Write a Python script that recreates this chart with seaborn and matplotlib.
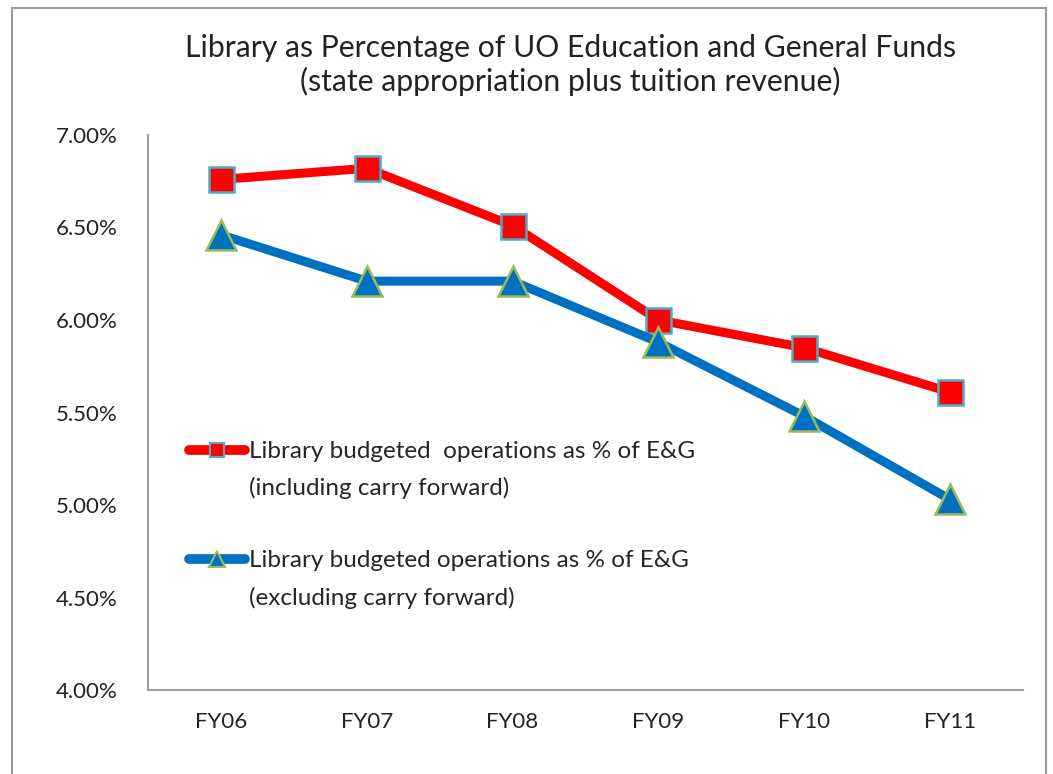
import matplotlib
matplotlib.use("Agg")
import matplotlib.pyplot as plt
import seaborn as sns
import pandas as pd
from matplotlib.lines import Line2D
from matplotlib.patches import Rectangle
from matplotlib.ticker import FuncFormatter, MultipleLocator

# data (percent of E&G)
years = ["FY06", "FY07", "FY08", "FY09", "FY10", "FY11"]
incl_carry = [6.76, 6.82, 6.51, 6.00, 5.85, 5.61]
excl_carry = [6.46, 6.21, 6.21, 5.88, 5.48, 5.03]
label_incl = ["Library budgeted  operations as % of E&G", "(including carry forward)"]
label_excl = ["Library budgeted operations as % of E&G", "(excluding carry forward)"]
title = "Library as Percentage of UO Education and General Funds\n(state appropriation plus tuition revenue)"

df = pd.DataFrame({"year": years, "incl": incl_carry, "excl": excl_carry})
df["x"] = range(len(years))

sns.set_style("white")
plt.rcParams["font.family"] = ["Lato", "DejaVu Sans"]

fig = plt.figure(figsize=(10.53, 7.74), dpi=100)
ax = fig.add_axes([0.1406, 0.1085, 0.8309, 0.7171])

# outer chart border
fig.patches.append(Rectangle((0.011, -0.02), 0.982, 1.01, transform=fig.transFigure,
                             fill=False, edgecolor="#9a9a9a", linewidth=1.5))

sns.lineplot(data=df, x="x", y="incl", ax=ax, color="#ff0000", linewidth=6.5,
             marker="s", markersize=18, markerfacecolor="#ff0000",
             markeredgecolor="#4bacc6", markeredgewidth=1.8, zorder=3)
sns.lineplot(data=df, x="x", y="excl", ax=ax, color="#0070c0", linewidth=6.5,
             marker="^", markersize=21, markerfacecolor="#0070c0",
             markeredgecolor="#9bbb59", markeredgewidth=1.8, zorder=3)

ax.set_xlim(-0.5, len(years) - 0.5)
ax.set_ylim(4.0, 7.0)
ax.yaxis.set_major_locator(MultipleLocator(0.5))
ax.yaxis.set_major_formatter(FuncFormatter(lambda v, p: f"{v:.2f}%"))
ax.set_xticks(df["x"])
ax.set_xticklabels(years)
ax.set_xlabel("")
ax.set_ylabel("")
ax.tick_params(axis="both", length=0, labelsize=16, colors="#222222")
ax.tick_params(axis="x", pad=16)
ax.tick_params(axis="y", pad=22)

for s in ["top", "right"]:
    ax.spines[s].set_visible(False)
for s in ["left", "bottom"]:
    ax.spines[s].set_color("#a0a0a0")
    ax.spines[s].set_linewidth(1.5)

fig.text(0.542, 0.916, title, ha="center", va="center", fontsize=21.7,
         color="#222222", linespacing=1.22)

# legend: second line of each label gets an empty handle
h_incl = Line2D([], [], color="#ff0000", linewidth=7, marker="s", markersize=10,
                markerfacecolor="#ff0000", markeredgecolor="#4bacc6", markeredgewidth=1.5,
                solid_capstyle="round")
h_excl = Line2D([], [], color="#0070c0", linewidth=7, marker="^", markersize=11,
                markerfacecolor="#0070c0", markeredgecolor="#9bbb59", markeredgewidth=1.5,
                solid_capstyle="round")
blank = Line2D([], [], linestyle="none")
ax.legend([h_incl, blank, blank, h_excl, blank],
          [label_incl[0], label_incl[1], "", label_excl[0], label_excl[1]],
          loc="upper left", bbox_to_anchor=(0.022, 0.488), frameon=False,
          handlelength=2.3, handletextpad=0.15, labelspacing=0.62,
          prop={"family": ["Lato", "DejaVu Sans"], "size": 17.5})

fig.savefig("out.png", dpi=100, facecolor="white")
